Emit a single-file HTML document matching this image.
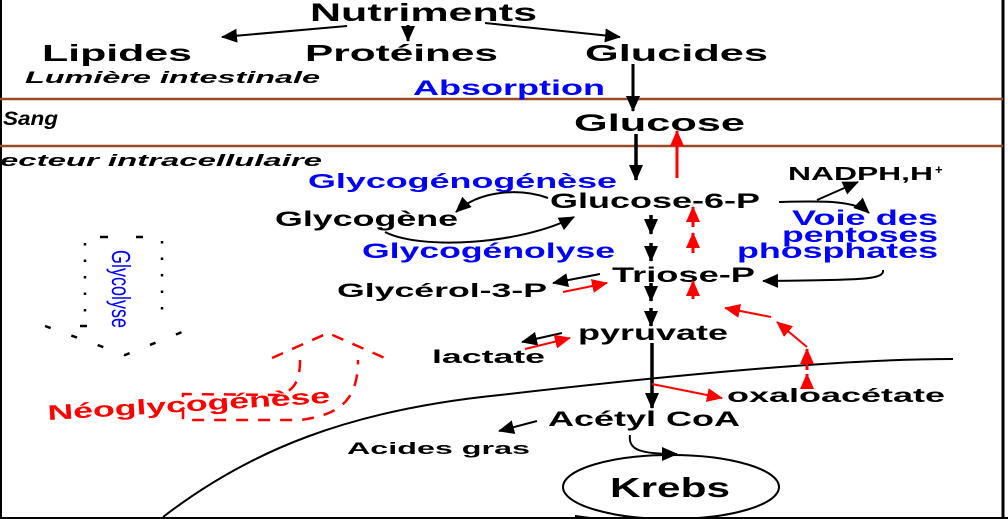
<!DOCTYPE html>
<html><head><meta charset="utf-8"><style>
html,body{margin:0;padding:0;background:#fff}
svg{display:block}
text{font-family:"Liberation Sans",Arial,sans-serif;font-weight:bold}
</style></head><body>
<svg width="1008" height="519" viewBox="0 0 1008 519" xmlns="http://www.w3.org/2000/svg">
<defs>
<marker id="abig" markerWidth="16" markerHeight="14" refX="15" refY="7" orient="auto" markerUnits="userSpaceOnUse"><path d="M0,0 L16,7 L0,14 z" fill="#000"/></marker>
<marker id="ar" markerWidth="16" markerHeight="14" refX="15" refY="7" orient="auto" markerUnits="userSpaceOnUse"><path d="M0,0 L16,7 L0,14 z" fill="#f00"/></marker>
</defs>
<rect x="0" y="0" width="1008" height="519" fill="#fff"/>
<line x1="1" y1="0" x2="1" y2="519" stroke="#000" stroke-width="2"/>
<line x1="1003" y1="0" x2="1003" y2="519" stroke="#000" stroke-width="3"/>
<line x1="0" y1="518" x2="1008" y2="518" stroke="#000" stroke-width="2"/>
<line x1="0" y1="99" x2="1003" y2="99" stroke="#9a4a22" stroke-width="2.5"/>
<line x1="0" y1="146" x2="1003" y2="146" stroke="#9a4a22" stroke-width="2.5"/>

<text x="310" y="21" font-size="25" textLength="227" lengthAdjust="spacingAndGlyphs">Nutriments</text>
<text x="42" y="61" font-size="23" textLength="150" lengthAdjust="spacingAndGlyphs">Lipides</text>
<text x="305" y="61" font-size="23" textLength="193" lengthAdjust="spacingAndGlyphs">Protéines</text>
<text x="585" y="61" font-size="23" textLength="183" lengthAdjust="spacingAndGlyphs">Glucides</text>
<text x="25" y="83" font-size="17" font-style="italic" textLength="295" lengthAdjust="spacingAndGlyphs">Lumière intestinale</text>
<text x="413" y="95" font-size="21" fill="#00f" textLength="192" lengthAdjust="spacingAndGlyphs">Absorption</text>
<text x="3" y="125" font-size="19" font-style="italic" textLength="55" lengthAdjust="spacingAndGlyphs">Sang</text>
<text x="574" y="131" font-size="24" textLength="171" lengthAdjust="spacingAndGlyphs">Glucose</text>
<text x="0" y="166" font-size="17" font-style="italic" textLength="322" lengthAdjust="spacingAndGlyphs">ecteur intracellulaire</text>
<text x="308" y="188" font-size="20" fill="#00f" textLength="309" lengthAdjust="spacingAndGlyphs">Glycogénogénèse</text>
<text x="788" y="180" font-size="18" textLength="145" lengthAdjust="spacingAndGlyphs">NADPH,H</text>
<text x="935" y="174" font-size="13">+</text>
<text x="550" y="208" font-size="21" textLength="210" lengthAdjust="spacingAndGlyphs">Glucose-6-P</text>
<text x="275" y="226" font-size="21" textLength="183" lengthAdjust="spacingAndGlyphs">Glycogène</text>
<text x="792" y="225" font-size="21" fill="#00f" textLength="146" lengthAdjust="spacingAndGlyphs">Voie des</text>
<text x="782" y="242" font-size="21" fill="#00f" textLength="156" lengthAdjust="spacingAndGlyphs">pentoses</text>
<text x="737" y="258" font-size="21" fill="#00f" textLength="201" lengthAdjust="spacingAndGlyphs">phosphates</text>
<text x="362" y="258" font-size="21" fill="#00f" textLength="253" lengthAdjust="spacingAndGlyphs">Glycogénolyse</text>
<text x="612" y="282" font-size="21" textLength="143" lengthAdjust="spacingAndGlyphs">Triose-P</text>
<text x="337" y="297" font-size="19" textLength="210" lengthAdjust="spacingAndGlyphs">Glycérol-3-P</text>
<text x="578" y="340" font-size="21" textLength="150" lengthAdjust="spacingAndGlyphs">pyruvate</text>
<text x="432" y="363" font-size="18" textLength="113" lengthAdjust="spacingAndGlyphs">lactate</text>
<text x="727" y="402" font-size="19" textLength="218" lengthAdjust="spacingAndGlyphs">oxaloacétate</text>
<text x="548" y="426" font-size="21" textLength="192" lengthAdjust="spacingAndGlyphs">Acétyl CoA</text>
<text x="347" y="454" font-size="17" textLength="183" lengthAdjust="spacingAndGlyphs">Acides gras</text>
<ellipse cx="671" cy="487" rx="108" ry="32" fill="none" stroke="#000" stroke-width="2"/>
<text x="610" y="497" font-size="28" textLength="120" lengthAdjust="spacingAndGlyphs">Krebs</text>

<g stroke="#000" stroke-width="2" fill="none">
<line x1="347" y1="26" x2="222" y2="37" marker-end="url(#abig)"/>
<line x1="408" y1="25" x2="408" y2="41" stroke-width="3" marker-end="url(#abig)"/>
<line x1="485" y1="23" x2="620" y2="37" marker-end="url(#abig)"/>
<line x1="633" y1="64" x2="633" y2="111" stroke-width="3" marker-end="url(#abig)"/>
<line x1="636" y1="134" x2="636" y2="180" stroke-width="3.5" marker-end="url(#abig)"/>
<line x1="651" y1="215" x2="651" y2="234" stroke-width="3.5" marker-end="url(#abig)"/>
<line x1="651" y1="243" x2="651" y2="261" stroke-width="3.5" marker-end="url(#abig)"/>
<line x1="651" y1="283" x2="651" y2="301" stroke-width="3.5" marker-end="url(#abig)"/>
<line x1="651" y1="308" x2="651" y2="326" stroke-width="3.5" marker-end="url(#abig)"/>
<line x1="652" y1="343" x2="652" y2="408" stroke-width="3.5" marker-end="url(#abig)"/>
<path d="M779,202 C820,201 855,200 869,213" marker-end="url(#abig)"/>
<path d="M817,200 L858,182" marker-end="url(#abig)"/>
<path d="M883,270 C885,280 860,280 763,281" marker-end="url(#abig)"/>
<path d="M548,198 C520,188 480,190 456,212" marker-end="url(#abig)"/>
<path d="M385,232 C420,250 520,245 574,217" marker-end="url(#abig)"/>
<line x1="600" y1="274" x2="553" y2="283" marker-end="url(#abig)"/>
<line x1="562" y1="333" x2="522" y2="342" marker-end="url(#abig)"/>
<line x1="537" y1="421" x2="499" y2="431" marker-end="url(#abig)"/>
<path d="M630,435 C628,450 640,454 677,454" marker-end="url(#abig)"/>
<path d="M163,517 C250,450 350,410 500,395 C700,372 850,359 953,359" stroke-width="2"/>
<path d="M590,518 L575,516"/>
</g>
<g stroke="#f00" stroke-width="3" fill="none">
<line x1="677" y1="178" x2="677" y2="131" marker-end="url(#ar)"/>
<line x1="693" y1="227" x2="693" y2="207" marker-end="url(#ar)"/>
<line x1="693" y1="253" x2="693" y2="233" marker-end="url(#ar)"/>
<line x1="693" y1="299" x2="693" y2="281" marker-end="url(#ar)"/>
<line x1="563" y1="292" x2="607" y2="283" stroke-width="2" marker-end="url(#ar)"/>
<line x1="525" y1="349" x2="570" y2="338" stroke-width="2" marker-end="url(#ar)"/>
<line x1="652" y1="384" x2="722" y2="398" stroke-width="2" marker-end="url(#ar)"/>
<line x1="807" y1="387" x2="807" y2="374" marker-end="url(#ar)"/>
<line x1="807" y1="370" x2="807" y2="349" marker-end="url(#ar)"/>
<line x1="807" y1="347" x2="777" y2="322" stroke-width="2" marker-end="url(#ar)"/>
<line x1="771" y1="317" x2="725" y2="308" stroke-width="2" marker-end="url(#ar)"/>
</g>
<g stroke="#000" stroke-width="2.5" fill="none">
<line x1="85" y1="243" x2="85" y2="320" stroke-dasharray="2.5,14"/>
<line x1="162" y1="241" x2="162" y2="323" stroke-dasharray="2.5,14"/>
<line x1="100" y1="237" x2="108" y2="237"/>
<line x1="136" y1="237" x2="143" y2="237"/>
<path d="M45,326 L125,355 L197,326" stroke-dasharray="6,22"/>
<line x1="80" y1="326" x2="87" y2="326"/>
</g>
<text transform="translate(112,250) rotate(90)" font-size="26" fill="#00f" textLength="78" lengthAdjust="spacingAndGlyphs" style="font-weight:normal">Glycolyse</text>
<g stroke="#f00" stroke-width="2.5" fill="none" stroke-dasharray="12,10">
<path d="M272,358 L328,333 L387,359"/>
<path d="M300,360 C300,380 295,390 280,395 L183,394 L183,420 L300,420 C340,415 358,400 358,360"/>
</g>
<text transform="translate(48,420) rotate(-3.5)" font-size="21" fill="#f00" textLength="283" lengthAdjust="spacingAndGlyphs">Néoglycogénèse</text>
</svg>
</body></html>
